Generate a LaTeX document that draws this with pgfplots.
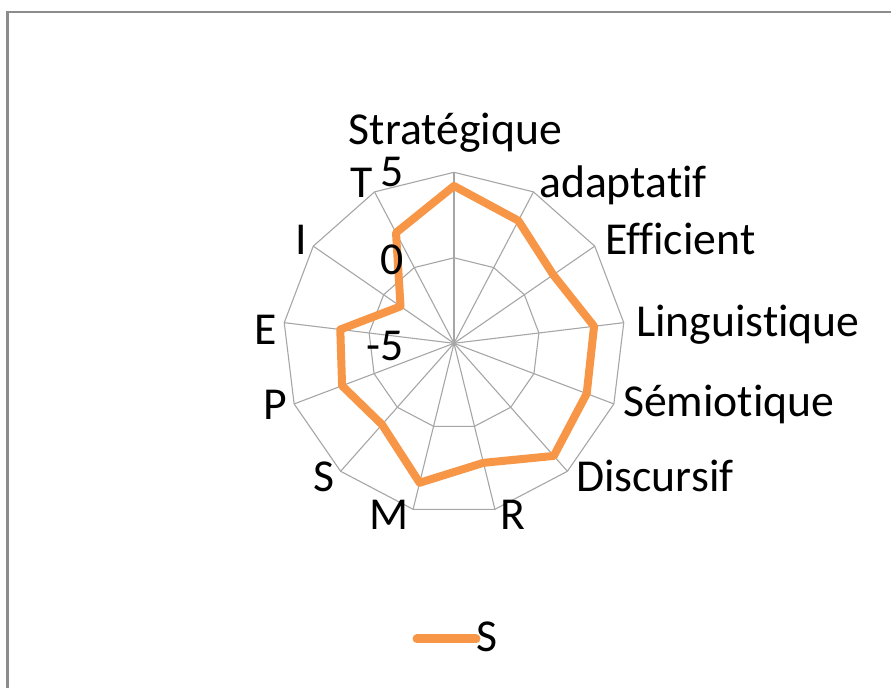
\documentclass[border=0pt]{standalone}
\usepackage{pgfplots}
\usepackage{pgfplotstable}
\pgfplotsset{compat=1.18}
\usepackage{fontspec}
\setmainfont{Carlito}[Ligatures={NoCommon,NoRequired,NoContextual}]
\definecolor{sorange}{HTML}{F79646}
\definecolor{gridgray}{HTML}{A6A6A6}
\definecolor{framegray}{HTML}{8C8C8C}

% one row per spoke, clockwise from the top; row 13 closes the polygon
\pgfplotstableread{
k v
0 4.2
1 3.1
2 2.05
3 3.25
4 3.3
5 3.8
6 2.2
7 3.4
8 1.35
9 2.0
10 1.7
11 -1.2
12 2.3
13 4.2
}\scores

\begin{document}
\begin{tikzpicture}
\useasboundingbox (0,0) rectangle (891bp,688bp);
\begin{axis}[at={(0,0)},anchor=south west,scale only axis,
  x=17.1bp,y=17.1bp,
  xmin=-26.5497,xmax=25.5556,ymin=-20.1579,ymax=20.0760,
  hide axis,clip=false,
  spoke/.style={data cs=polar,gridgray,line width=1.1bp},
]
% grid rings (value 0 and 5)
\addplot[spoke,mark=none] table[x expr={90-\thisrow{k}*360/13},y expr=5] {\scores};
\addplot[spoke,mark=none] table[x expr={90-\thisrow{k}*360/13},y expr=10] {\scores};
% spokes
\pgfplotsinvokeforeach{0,...,12}{
  \addplot[spoke,mark=none] table[row sep=\\,x expr={90-#1*360/13},y=r] {r\\0\\10\\};
}
% series
\addplot[data cs=polar,sorange,line width=8bp,line join=round,line cap=round,mark=none]
  table[x expr={90-\thisrow{k}*360/13},y expr={\thisrow{v}+5}] {\scores};
\end{axis}

\begin{scope}[yshift=688bp,x=1bp,y=-1bp,
  every node/.style={font=\fontsize{45.7bp}{50bp}\selectfont,inner sep=0pt,text=black}]
% frame (only left and top edges visible)
\draw[framegray,line width=2bp] (7.5,688) -- (7.5,12.5) -- (891,12.5);
% category labels
\node[anchor=base] at (455.5,145) {Stratégique};
\node[anchor=base west] at (539,198) {adaptatif};
\node[anchor=base west] at (605,255) {Efficient};
\node[anchor=base west] at (636,337) {Linguistique};
\node[anchor=base west] at (623,417) {Sémiotique};
\node[anchor=base west] at (576,492) {Discursif};
\node[anchor=base west] at (500,530) {R};
\node[anchor=base east] at (409,530) {M};
\node[anchor=base east] at (335,492) {S};
\node[anchor=base east] at (287,420) {P};
\node[anchor=base east] at (277,345) {E};
\node[anchor=base east] at (307,255) {I};
\node[anchor=base east] at (373,198) {T};
% radial tick labels
\node[anchor=base east] at (404,187) {5};
\node[anchor=base east] at (404,275) {0};
\node[anchor=base east] at (404,361) {-5};
% legend
\draw[sorange,line width=9bp,line cap=round] (417,639) -- (476,639);
\node[anchor=base west] at (476,652) {S};
\end{scope}
\end{tikzpicture}
\end{document}
